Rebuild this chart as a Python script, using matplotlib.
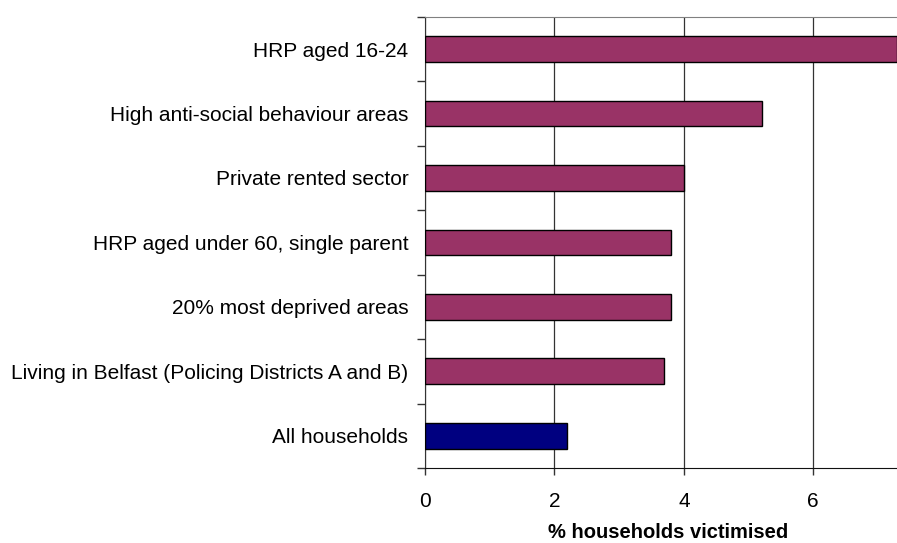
import numpy as np
import matplotlib.pyplot as plt

categories = [
    "HRP aged 16-24",
    "High anti-social behaviour areas",
    "Private rented sector",
    "HRP aged under 60, single parent",
    "20% most deprived areas",
    "Living in Belfast (Policing Districts A and B)",
    "All households",
]
values = [7.3, 5.2, 4.0, 3.8, 3.8, 3.7, 2.2]
colours = ["#993366"] * 6 + ["#000080"]

plt.rcParams['font.family'] = ['Liberation Sans', 'DejaVu Sans']

fig = plt.figure(figsize=(8.97, 5.43), dpi=100)
# plot area runs a little past the right edge of the picture
ax = fig.add_axes([0.4738, 0.138, 0.5418, 0.831])

n = len(categories)
pos = np.arange(n)[::-1]
ax.barh(pos, values, height=0.4, color=colours, edgecolor="black", linewidth=1.0, zorder=3)

ax.set_xlim(0, 7.51)
ax.set_ylim(-0.5, n - 0.5)
ax.set_xticks([0, 2, 4, 6])
ax.set_yticks(pos)
ax.set_yticklabels(categories, fontsize=15)
ax.set_yticks(np.arange(n + 1) - 0.5, minor=True)
ax.tick_params(axis="y", which="major", length=0, pad=12)
ax.tick_params(axis="y", which="minor", length=6, width=1, color="#333333")
ax.tick_params(axis="x", length=5, width=1, labelsize=15, pad=12, color="#333333")

ax.xaxis.grid(True, color="#333333", linewidth=0.9, zorder=0)
ax.spines["right"].set_visible(False)
ax.spines["top"].set_color("#808080")
ax.spines["left"].set_color("#333333")
ax.spines["bottom"].set_color("#111111")

ax.set_xlabel("% households victimised", fontsize=14.5, fontweight="bold", labelpad=9)

fig.savefig("out.png", dpi=100)
